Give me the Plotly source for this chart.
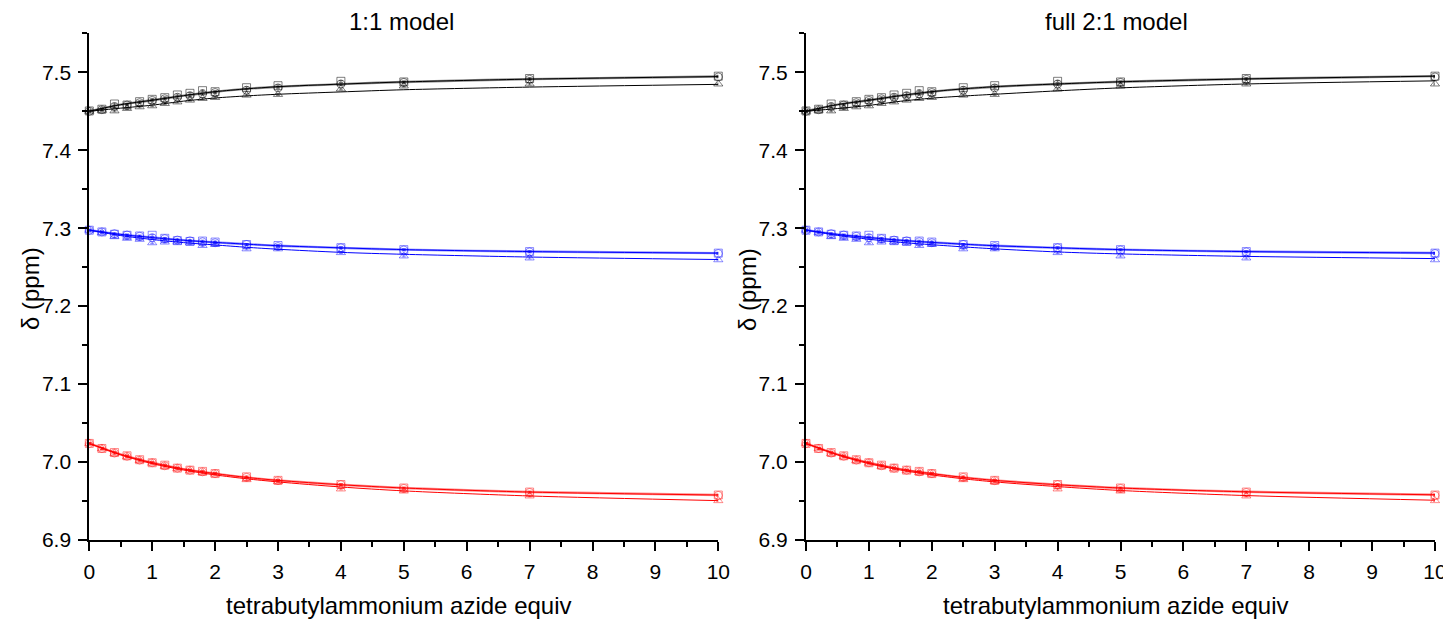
import plotly.graph_objects as go

# ---------------- data ----------------
x_data = [0, 0.2, 0.4, 0.6, 0.8, 1.0, 1.2, 1.4, 1.6, 1.8, 2.0, 2.5, 3, 4, 5, 7, 10]

black_sq = [7.4504, 7.4526, 7.4593, 7.4580, 7.4623, 7.4653, 7.4674, 7.4709, 7.4730, 7.4764,
            7.4751, 7.4802, 7.4828, 7.4884, 7.4876, 7.4920, 7.4950]
black_ci = [7.4500, 7.4520, 7.4560, 7.4580, 7.4610, 7.4640, 7.4660, 7.4680, 7.4700, 7.4720,
            7.4740, 7.4770, 7.4800, 7.4850, 7.4870, 7.4910, 7.4940]
black_tr = [7.4500, 7.4513, 7.4505, 7.4536, 7.4557, 7.4570, 7.4600, 7.4620, 7.4643, 7.4664,
            7.4677, 7.4707, 7.4716, 7.4786, 7.4824, 7.4850, 7.4850]

blue_sq = [7.2974, 7.2952, 7.2922, 7.2909, 7.2900, 7.2909, 7.2870, 7.2840, 7.2830, 7.2835,
           7.2822, 7.2790, 7.2778, 7.2750, 7.2725, 7.2700, 7.2680]
blue_ci = [7.2974, 7.2952, 7.2930, 7.2913, 7.2896, 7.2878, 7.2865, 7.2848, 7.2839, 7.2826,
           7.2813, 7.2791, 7.2765, 7.2748, 7.2720, 7.2695, 7.2675]
blue_tr = [7.2974, 7.2943, 7.2891, 7.2870, 7.2857, 7.2813, 7.2822, 7.2822, 7.2813, 7.2778,
           7.2791, 7.2735, 7.2735, 7.2687, 7.2644, 7.2618, 7.2595]

red_sq = [7.0239, 7.0174, 7.0122, 7.0080, 7.0030, 6.9991, 6.9960, 6.9922, 6.9896, 6.9880,
          6.9852, 6.9810, 6.9765, 6.9712, 6.9667, 6.9615, 6.9577]
red_ci = [7.0239, 7.0174, 7.0115, 7.0074, 7.0025, 6.9991, 6.9952, 6.9922, 6.9896, 6.9874,
          6.9852, 6.9804, 6.9761, 6.9709, 6.9662, 6.9610, 6.9572]
red_tr = [7.0239, 7.0170, 7.0110, 7.0068, 7.0020, 6.9985, 6.9945, 6.9915, 6.9888, 6.9866,
          6.9845, 6.9774, 6.9750, 6.9655, 6.9628, 6.9565, 6.9505]

# fitted curves (read at these x)
x_fit = [0, 0.5, 1, 1.5, 2, 2.5, 3, 4, 5, 7, 10]

fitL_black_up = [7.4500, 7.4585, 7.4641, 7.4700, 7.4751, 7.4787, 7.4815, 7.4848, 7.4876, 7.4912, 7.4945]
fitL_black_lo = [7.4500, 7.4540, 7.4578, 7.4630, 7.4670, 7.4697, 7.4718, 7.4748, 7.4776, 7.4810, 7.4845]
fitL_blue_up = [7.2975, 7.2920, 7.2880, 7.2845, 7.2818, 7.2795, 7.2775, 7.2748, 7.2725, 7.2700, 7.2680]
fitL_blue_lo = [7.2975, 7.2905, 7.2855, 7.2815, 7.2785, 7.2755, 7.2730, 7.2690, 7.2665, 7.2630, 7.2598]
fitL_red_up = [7.0239, 7.0098, 6.9991, 6.9910, 6.9852, 6.9803, 6.9765, 6.9709, 6.9667, 6.9615, 6.9577]
fitL_red_lo = [7.0239, 7.0092, 6.9980, 6.9898, 6.9835, 6.9785, 6.9745, 6.9680, 6.9630, 6.9565, 6.9505]

fitR_black_up = [7.4500, 7.4585, 7.4641, 7.4700, 7.4751, 7.4787, 7.4815, 7.4850, 7.4878, 7.4915, 7.4950]
fitR_black_lo = [7.4500, 7.4535, 7.4575, 7.4628, 7.4668, 7.4695, 7.4718, 7.4762, 7.4800, 7.4850, 7.4890]
fitR_blue_up = [7.2975, 7.2920, 7.2880, 7.2845, 7.2818, 7.2795, 7.2775, 7.2748, 7.2725, 7.2700, 7.2682]
fitR_blue_lo = [7.2975, 7.2908, 7.2858, 7.2818, 7.2788, 7.2760, 7.2735, 7.2695, 7.2670, 7.2638, 7.2610]
fitR_red_up = [7.0239, 7.0098, 6.9991, 6.9910, 6.9852, 6.9803, 6.9765, 6.9709, 6.9667, 6.9618, 6.9580]
fitR_red_lo = [7.0239, 7.0092, 6.9980, 6.9898, 6.9835, 6.9785, 6.9745, 6.9685, 6.9635, 6.9570, 6.9510]

panel_titles = ["1:1 model", "full 2:1 model"]
x_title = "tetrabutylammonium azide equiv"
y_title = "δ (ppm)"

# ---------------- figure ----------------
PAGE_W, PAGE_H = 1451, 619
OFF = 8                      # default body margin of the html page
W, H = PAGE_W - OFF, PAGE_H - OFF
FONT = "Liberation Sans, Arial, sans-serif"

fig = go.Figure()

groups = [
    ("black", "rgba(0,0,0,0.5)", [black_sq, black_ci, black_tr]),
    ("blue", "rgba(0,0,255,0.45)", [blue_sq, blue_ci, blue_tr]),
    ("red", "rgba(255,0,0,0.45)", [red_sq, red_ci, red_tr]),
]
line_cols = {"black": "#000000", "blue": "#0000FF", "red": "#FF0000"}
line_cols_light = {"black": "rgba(0,0,0,0.45)", "blue": "rgba(0,0,255,0.45)", "red": "rgba(255,0,0,0.45)"}

fits = [
    {"black": (fitL_black_up, fitL_black_lo), "blue": (fitL_blue_up, fitL_blue_lo), "red": (fitL_red_up, fitL_red_lo)},
    {"black": (fitR_black_up, fitR_black_lo), "blue": (fitR_blue_up, fitR_blue_lo), "red": (fitR_red_up, fitR_red_lo)},
]

symbols = ["square-open", "circle-open", "triangle-up-open"]

for p in range(2):
    xa = "x" if p == 0 else "x2"
    ya = "y" if p == 0 else "y2"
    for name, mcol, series in groups:
        up, lo = fits[p][name]
        fig.add_trace(go.Scatter(x=x_fit, y=up, mode="lines", xaxis=xa, yaxis=ya,
                                 line=dict(color=line_cols_light[name], width=2.4, shape="spline", smoothing=0.8),
                                 showlegend=False, hoverinfo="skip"))
        fig.add_trace(go.Scatter(x=x_fit, y=up, mode="lines", xaxis=xa, yaxis=ya,
                                 line=dict(color=line_cols[name], width=1.0, shape="spline", smoothing=0.8),
                                 showlegend=False, hoverinfo="skip"))
        fig.add_trace(go.Scatter(x=x_fit, y=lo, mode="lines", xaxis=xa, yaxis=ya,
                                 line=dict(color=line_cols[name], width=1.0, shape="spline", smoothing=0.8),
                                 showlegend=False, hoverinfo="skip"))
        for s, sym in zip(series, symbols):
            fig.add_trace(go.Scatter(
                x=x_data, y=s, mode="markers", xaxis=xa, yaxis=ya, cliponaxis=False,
                marker=dict(symbol=sym, size=8, color=mcol, line=dict(color=mcol, width=1)),
                error_y=dict(type="constant", value=0.0012, color=mcol, thickness=1, width=2),
                showlegend=False))


def fx(px):
    """page pixel x -> paper fraction"""
    return (px - OFF) / W


def fy(py):
    """page pixel y -> paper fraction"""
    return (H - (py - OFF)) / H


x_left = [fx(89.3), fx(718.3)]
x_right = [fx(806), fx(1435)]
y_dom = [fy(540), fy(33.3)]

axis_common = dict(showline=True, linecolor="black", linewidth=2, showgrid=False, zeroline=False,
                   ticks="outside", ticklen=9, tickwidth=1.5, tickcolor="black", automargin=False,
                   ticklabelstandoff=3,
                   tickfont=dict(family=FONT, size=21, color="black"), mirror=False)

xax = dict(axis_common, range=[0, 10], dtick=1, tick0=0,
           minor=dict(dtick=0.5, ticks="outside", ticklen=5, tickwidth=1.5, tickcolor="black"))
yax = dict(axis_common, range=[6.9, 7.55], dtick=0.1, tick0=6.9, tickformat=".1f",
           minor=dict(dtick=0.05, ticks="outside", ticklen=5, tickwidth=1.5, tickcolor="black"))

fig.update_layout(
    width=W, height=H,
    paper_bgcolor="white", plot_bgcolor="white",
    margin=dict(l=0, r=0, t=0, b=0, autoexpand=False),
    xaxis=dict(xax, domain=x_left, anchor="y"),
    yaxis=dict(yax, domain=y_dom, anchor="x"),
    xaxis2=dict(xax, domain=x_right, anchor="y2"),
    yaxis2=dict(yax, domain=y_dom, anchor="x2"),
    showlegend=False,
)

ann_font = dict(family=FONT, size=24, color="black")
annotations = []
for p, (cx, ytx, tx) in enumerate([(398.5, 31, 401), (1115.5, 748, 1116)]):
    annotations.append(dict(text=panel_titles[p], x=fx(tx), y=fy(21),
                            xref="paper", yref="paper", showarrow=False, font=ann_font,
                            xanchor="center", yanchor="middle"))
    annotations.append(dict(text=x_title, x=fx(cx), y=fy(605), xref="paper", yref="paper",
                            showarrow=False, font=ann_font, xanchor="center", yanchor="middle"))
    annotations.append(dict(text=y_title, x=fx(ytx), y=fy(289), xref="paper", yref="paper",
                            showarrow=False, font=ann_font, textangle=-90,
                            xanchor="center", yanchor="middle"))
fig.update_layout(annotations=annotations)

fig.write_html("out.html")
